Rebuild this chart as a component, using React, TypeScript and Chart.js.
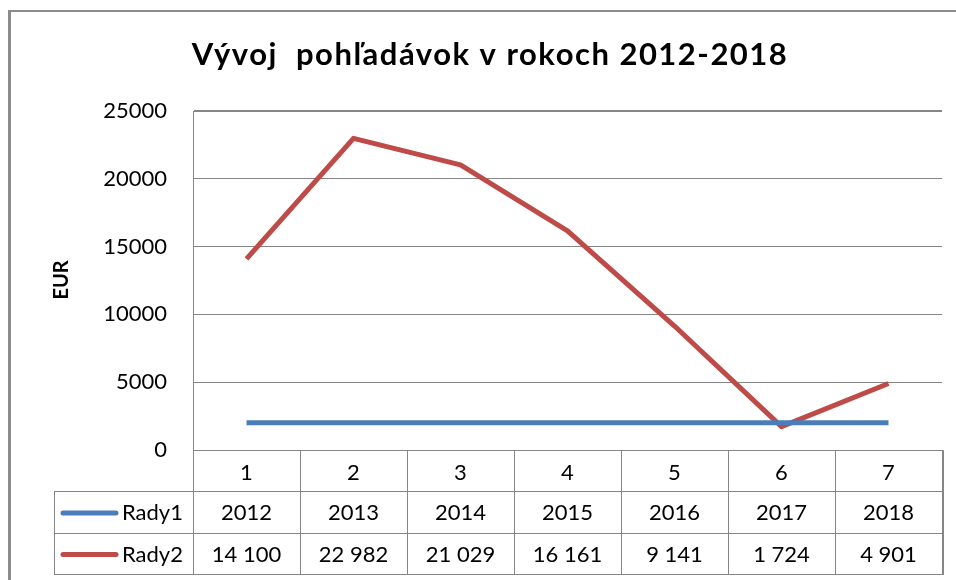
import React, { useEffect, useRef } from "react";
import { Chart, registerables } from "chart.js";

Chart.register(...registerables);

const title = "Vývoj  pohľadávok v rokoch 2012-2018";
const yAxisTitle = "EUR";
const categories = ["1", "2", "3", "4", "5", "6", "7"];
const seriesNames = ["Rady1", "Rady2"];
const rady1 = [2012, 2013, 2014, 2015, 2016, 2017, 2018];
const rady2 = [14100, 22982, 21029, 16161, 9141, 1724, 4901];
const yMin = 0;
const yMax = 25000;
const yStep = 5000;

const BLUE = "#4a7ebb";
const RED = "#be4b48";
const GRID = "#868686";
const FONT = "Lato, 'Open Sans', sans-serif";

const fmtSpace = (v: number) => String(v).replace(/\B(?=(\d{3})+(?!\d))/g, " ");

const decorPlugin = {
  id: "decor",
  beforeDraw(chart: any) {
    const ctx = chart.ctx;
    ctx.save();
    ctx.fillStyle = "#ffffff";
    ctx.fillRect(0, 0, chart.width, chart.height);
    ctx.restore();
  },
  afterDraw(chart: any) {
    const ctx = chart.ctx;
    const area = chart.chartArea;
    const xs = chart.scales.x;
    ctx.save();

    // outer chart border (cropped)
    ctx.strokeStyle = "#8c8c8c";
    ctx.lineWidth = 3;
    ctx.beginPath();
    ctx.moveTo(9.5, chart.height);
    ctx.lineTo(9.5, 10);
    ctx.stroke();
    ctx.lineWidth = 2;
    ctx.beginPath();
    ctx.moveTo(8, 11);
    ctx.lineTo(chart.width, 11);
    ctx.stroke();

    // title
    ctx.save();
    ctx.fillStyle = "#000";
    ctx.font = `bold 31px ${FONT}`;
    try {
      (ctx as any).letterSpacing = "1.5px";
    } catch (e) {}
    ctx.textAlign = "center";
    ctx.textBaseline = "alphabetic";
    ctx.fillText(title, 490, 65);
    ctx.restore();

    // y axis title
    ctx.save();
    ctx.fillStyle = "#000";
    ctx.translate(68, 280);
    ctx.rotate(-Math.PI / 2);
    ctx.font = `bold 20px ${FONT}`;
    ctx.textAlign = "center";
    ctx.textBaseline = "alphabetic";
    ctx.fillText(yAxisTitle, 0, 0);
    ctx.restore();

    // data table
    const n = categories.length;
    const left = area.left;
    const right = area.right;
    const colW = (right - left) / n;
    const rowH = [41, 42, 41];
    const y0 = area.bottom;
    const y1 = y0 + rowH[0];
    const y2 = y1 + rowH[1];
    const y3 = y2 + rowH[2];
    const legLeft = 54;

    ctx.strokeStyle = GRID;
    ctx.lineWidth = 1;
    const hline = (x1: number, x2: number, y: number) => {
      ctx.beginPath();
      ctx.moveTo(x1, Math.round(y) + 0.5);
      ctx.lineTo(x2, Math.round(y) + 0.5);
      ctx.stroke();
    };
    const vline = (x: number, ya: number, yb: number) => {
      ctx.beginPath();
      ctx.moveTo(Math.round(x) + 0.5, ya);
      ctx.lineTo(Math.round(x) + 0.5, yb);
      ctx.stroke();
    };
    hline(legLeft, right, y1);
    hline(legLeft, right, y2);
    hline(legLeft, right, y3);
    vline(legLeft, y1, y3 + 0.5);
    for (let i = 0; i <= n; i++) {
      vline(left + i * colW, y0, y3 + 0.5);
    }
    ctx.lineWidth = 2;
    ctx.beginPath();
    ctx.moveTo(right + 1, y0);
    ctx.lineTo(right + 1, y3 + 1);
    ctx.stroke();

    ctx.fillStyle = "#000";
    ctx.font = `22px ${FONT}`;
    ctx.textAlign = "center";
    ctx.textBaseline = "middle";
    const rows = [
      categories,
      rady1.map((v) => String(v)),
      rady2.map((v) => fmtSpace(v)),
    ];
    const centersY = [(y0 + y1) / 2 + 2, (y1 + y2) / 2 + 1, (y2 + y3) / 2 + 1];
    rows.forEach((row, r) => {
      row.forEach((txt, i) => {
        const cx = xs.getPixelForValue(i);
        ctx.fillText(txt, cx, centersY[r]);
      });
    });

    // legend keys
    const colors = [BLUE, RED];
    seriesNames.forEach((name, k) => {
      const cy = centersY[k + 1];
      ctx.strokeStyle = colors[k];
      ctx.lineWidth = 5;
      ctx.lineCap = "round";
      ctx.beginPath();
      ctx.moveTo(63, cy);
      ctx.lineTo(116, cy);
      ctx.stroke();
      ctx.fillStyle = "#000";
      ctx.textAlign = "left";
      ctx.fillText(name, 122, cy);
    });

    ctx.restore();
  },
};

export default function App() {
  const canvasRef = useRef<HTMLCanvasElement | null>(null);

  useEffect(() => {
    document.body.style.margin = "0";
    const canvas = canvasRef.current;
    if (!canvas) return;
    const chart = new Chart(canvas, {
      type: "line",
      data: {
        labels: categories,
        datasets: [
          {
            label: seriesNames[0],
            data: rady1,
            borderColor: BLUE,
            backgroundColor: BLUE,
            borderWidth: 5,
            pointRadius: 0,
            tension: 0,
            borderJoinStyle: "round",
          },
          {
            label: seriesNames[1],
            data: rady2,
            borderColor: RED,
            backgroundColor: RED,
            borderWidth: 5,
            pointRadius: 0,
            tension: 0,
            borderJoinStyle: "round",
          },
        ],
      },
      options: {
        responsive: false,
        animation: false,
        devicePixelRatio: 1,
        layout: { padding: { left: 10, right: 14, top: 111, bottom: 6 } },
        plugins: {
          legend: { display: false },
          title: { display: false },
          tooltip: { enabled: false },
        },
        scales: {
          x: {
            type: "category",
            offset: true,
            grid: { display: false },
            border: { display: false },
            ticks: { display: false },
            afterFit: (s: any) => {
              s.height = 124;
            },
          },
          y: {
            min: yMin,
            max: yMax,
            ticks: {
              stepSize: yStep,
              padding: 26,
              color: "#000",
              font: { family: FONT, size: 22 },
              callback: (v: any) => String(v),
            },
            grid: {
              color: GRID,
              lineWidth: (c: any) => (c.tick && c.tick.value === yMax ? 2 : 1),
              drawTicks: false,
            },
            border: { display: true, color: GRID, width: 1 },
            afterFit: (s: any) => {
              s.width = 183;
            },
          },
        },
      },
      plugins: [decorPlugin],
    });
    return () => chart.destroy();
  }, []);

  return (
    <div style={{ position: "absolute", left: 0, top: 0, width: 956, height: 580 }}>
      <canvas ref={canvasRef} width={956} height={580} />
    </div>
  );
}
